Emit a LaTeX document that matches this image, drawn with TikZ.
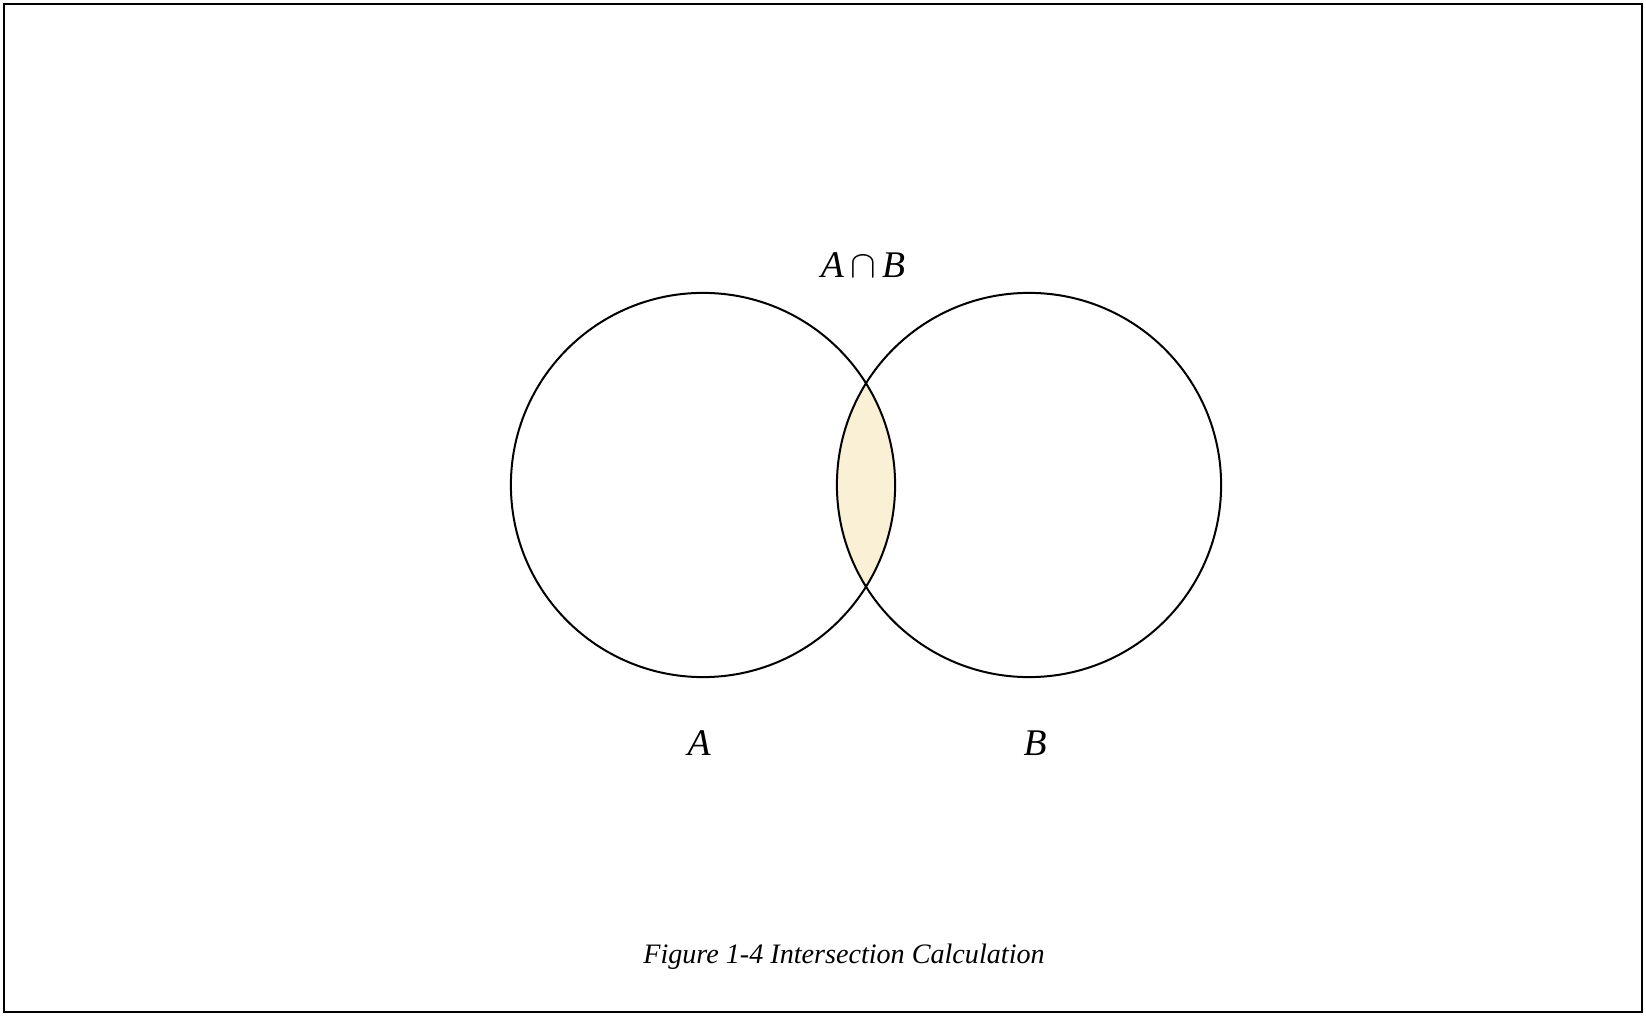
\documentclass[tikz,border=0pt]{standalone}
\usepackage{fontspec}
\setmainfont{Liberation Serif}[ItalicFont={Liberation Serif Italic}]
\usetikzlibrary{positioning}
\definecolor{lensYellow}{HTML}{FAF0D5}

\begin{document}
\begin{tikzpicture}[x=0.01cm, y=-0.01cm,
        every node/.style={font=\fontsize{10.7}{12}\selectfont\itshape, inner sep=0pt},
        setcircle/.style={draw, circle, line width=0.02cm, minimum size=3.84cm, anchor=center}]
    \useasboundingbox (0,0) rectangle (1646,1016);
    \draw[line width=0.02cm] (4,4) rectangle (1642,1012);

    % overlap of the two sets
    \begin{scope}
        \clip (703,485) circle[radius=1.92cm];
        \fill[lensYellow] (1029,485) circle[radius=1.92cm];
    \end{scope}

    \node[setcircle] (setA) at (703,485) {};
    \node[setcircle] (setB) at (1029,485) {};

    \node[anchor=base] (cap) at (863,278) {A\,$\cap$\,B};
    \node[anchor=base] (labA) at (699,755) {A};
    \node[anchor=base] (labB) at (1035,755) {B};

    \node[anchor=base, font=\fontsize{8}{9}\selectfont\itshape] (caption) at (844,963)
        {Figure 1-4 Intersection Calculation};
\end{tikzpicture}
\end{document}
